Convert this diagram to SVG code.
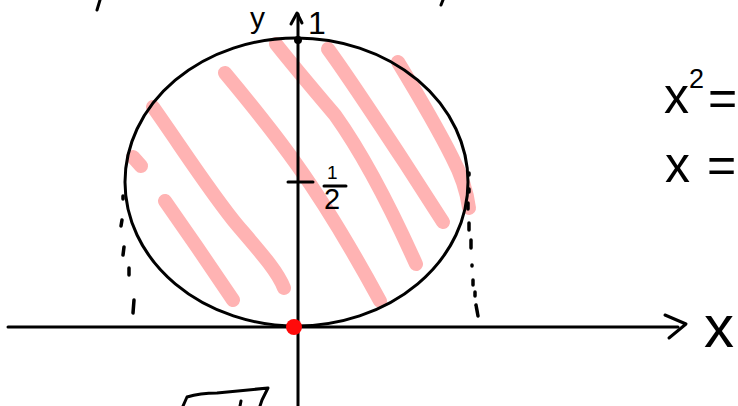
<svg xmlns="http://www.w3.org/2000/svg" width="738" height="406" viewBox="0 0 738 406">
  <style>
    .ink { stroke: #000; fill: none; stroke-width: 3; stroke-linecap: round; stroke-linejoin: round; }
    .dash { stroke: #000; fill: none; stroke-width: 3.5; stroke-linecap: round; }
    .hatch { stroke: #ffb3b3; fill: none; stroke-width: 14; stroke-linecap: round; stroke-linejoin: round; }
    .txt { font-family: "Liberation Sans", "DejaVu Sans", sans-serif; fill: #000; }
  </style>
  <rect width="738" height="406" fill="#fff"/>

  <g id="hatching">
    <path class="hatch" d="M133 157 L141 166"/>
    <path class="hatch" d="M153 107 C180 145 212 195 238 226 C262 254 278 272 284 288"/>
    <path class="hatch" d="M165 201 L197 247 L233 300"/>
    <path class="hatch" d="M225 73 C250 103 278 138 297 165 C322 200 355 255 380 301"/>
    <path class="hatch" d="M276 44 C295 68 318 95 335 115 C360 150 385 195 416 264"/>
    <path class="hatch" d="M328 49 C345 72 380 125 405 163 C420 186 432 205 443 222"/>
    <path class="hatch" d="M398 62 C415 90 440 133 452 157 C462 176 467 192 469 208"/>
  </g>

  <g id="region">
    <ellipse class="ink" cx="296.5" cy="182" rx="171.5" ry="144"/>
  </g>

  <g id="guides">
    <path class="dash" d="M123 196 L123 199"/>
    <path class="dash" d="M122 220 L121 226"/>
    <path class="dash" d="M124 247 L123 255"/>
    <path class="dash" d="M129 268 L129 275"/>
    <path class="dash" d="M134 300 L133 313"/>
    <path class="dash" d="M469 173 L469 175"/>
    <path class="dash" d="M469 189 L469 192"/>
    <path class="dash" d="M468 203 L468 209"/>
    <path class="dash" d="M469 223 L469 230"/>
    <path class="dash" d="M471 240 L471 248"/>
    <path class="dash" d="M472 265 L472 266"/>
    <path class="dash" d="M473 280 L473 285"/>
    <path class="dash" d="M475 292 L475 296"/>
    <path class="dash" d="M476 305 L478 316"/>
  </g>

  <g id="connectors">
    <path id="x-axis" class="ink" d="M8 327 L678 327"/>
    <path class="ink" d="M665 315 L686 324 L669 338"/>
    <path id="y-axis" class="ink" d="M298 14 L298 406"/>
    <path class="ink" d="M291 24 L297 13 L302 23"/>
    <path class="ink" d="M288 182 L313 182"/>
  </g>

  <g id="points">
    <circle cx="298" cy="40" r="4" fill="#000"/>
    <circle cx="294" cy="327" r="8" fill="#ff0a0a"/>
  </g>

  <g id="labels">
    <text class="txt" x="250" y="28" font-size="30">y</text>
    <text class="txt" x="308" y="34" font-size="32">1</text>
    <text class="txt" x="327" y="179" font-size="19">1</text>
    <path class="ink" d="M324 186 L346 186"/>
    <text class="txt" x="324" y="209" font-size="29">2</text>
    <text class="txt" x="704" y="347" font-size="60">x</text>
    <text class="txt" x="664" y="113" font-size="50">x<tspan x="689" y="88" font-size="27">2</tspan><tspan x="708" y="115">=</tspan></text>
    <text class="txt" x="665" y="182" font-size="50">x<tspan x="707">=</tspan></text>
  </g>

  <g id="fragments">
    <path class="ink" d="M100 0 L97 10"/>
    <path class="ink" d="M443 0 L441 5"/>
    <path class="ink" d="M183 406 L187 397 Q200 393 217 393 L268 388 L262 400 L260 406"/>
    <path class="ink" d="M241 401 L240 406"/>
  </g>
</svg>
